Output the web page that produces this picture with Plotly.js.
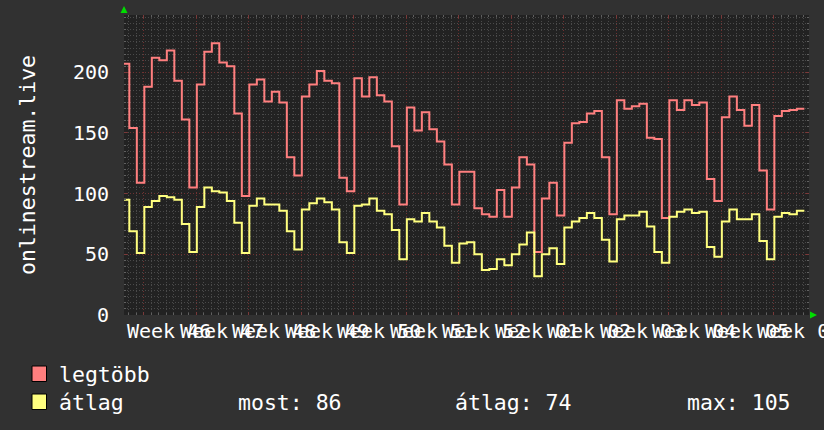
<!DOCTYPE html>
<html>
<head>
<meta charset="utf-8">
<script src="https://cdn.plot.ly/plotly-3.0.1.min.js"></script>
<style>
  html, body { margin: 0; padding: 0; background: #313131; }
  #chart { width: 824px; height: 430px; }
</style>
</head>
<body>
<div id="chart"></div>
<script>
// ---- data (daily values) ----
const firstDay = -0.29;          // start of first daily step, in days from the left edge
const legtobb = [207,154,109,188,212,210,218,193,161,105,190,217,224,208,205,166,98,190,194,176,184,175,130,115,
  180,190,201,193,191,113,102,195,180,196,181,176,139,91,171,152,167,153,143,124,91,118,118,
  88,83,81,103,81,105,130,124,52,96,109,82,142,158,159,166,168,130,83,177,170,172,174,
  146,145,80,177,169,177,173,175,112,94,163,180,169,156,173,119,87,164,168,169,170];
const atlag = [95,69,51,89,94,98,97,95,75,52,89,105,102,101,94,76,51,90,96,91,91,86,69,54,
  87,92,96,93,87,60,51,90,91,96,86,83,70,46,79,77,84,77,72,57,43,59,60,
  50,37,38,46,41,50,58,68,32,50,55,42,72,77,80,84,80,62,44,79,82,82,85,
  73,52,43,81,85,87,84,85,56,48,77,87,79,79,83,61,46,81,84,83,86];
const weekLabels = ["Week 46","Week 47","Week 48","Week 49","Week 50","Week 51","Week 52",
  "Week 01","Week 02","Week 03","Week 04","Week 05","Week 06"];
const seriesNames = ["legtöbb","átlag"];
const seriesColors = ["#ff7f7f","#ffff7f"];
const statLabels = ["most: 86","átlag: 74","max: 105"];
const yTitle = "onlinestream.live";

// ---- geometry ----
const xMax = 91.33, yMax = 247.2;
const weekStart = 2.6;    // first Monday grid line (days)
const labelStart = 6.05;  // label centres, mid-week

function stepX(vals){ const x = vals.map((_, i) => firstDay + i); x.push(firstDay + vals.length); return x; }
function stepY(vals){ return vals.concat([vals[vals.length-1]]); }

const traces = [legtobb, atlag].map((vals, i) => ({
  x: stepX(vals), y: stepY(vals), type: 'scatter', mode: 'lines',
  line: {shape: 'hv', color: seriesColors[i], width: 2}, name: seriesNames[i],
  hoverinfo: 'skip', showlegend: false
}));

const mono = 'DejaVu Sans Mono, monospace';
const W = 685, H = 300, L = 124, T = 15;
const px2x = p => (p - L) / W;
const py2y = p => (T + H - p) / H;

const annotations = [];
weekLabels.forEach((t, k) => annotations.push({
  x: labelStart + 7*k, xref: 'x', y: py2y(331), yref: 'paper', text: t, showarrow: false,
  xanchor: 'center', yanchor: 'middle', font: {family: mono, size: 20, color: '#ffffff'}
}));
annotations.push({x: px2x(27), xref: 'paper', y: py2y(165), yref: 'paper', text: yTitle, textangle: -90,
  showarrow: false, xanchor: 'center', yanchor: 'middle', font: {family: mono, size: 21.5, color: '#ffffff'}});
const rowY = [374, 402];
seriesNames.forEach((n, i) => annotations.push({
  x: px2x(57), xref: 'paper', y: py2y(rowY[i]), yref: 'paper', text: n, showarrow: false,
  xanchor: 'left', yanchor: 'middle', font: {family: mono, size: 21.5, color: '#ffffff'}
}));
const statX = [236, 453, 685];
statLabels.forEach((s, i) => annotations.push({
  x: px2x(statX[i]), xref: 'paper', y: py2y(rowY[1]), yref: 'paper', text: s, showarrow: false,
  xanchor: 'left', yanchor: 'middle', font: {family: mono, size: 21.5, color: '#ffffff'}
}));

const shapes = [];
seriesColors.forEach((c, i) => shapes.push({
  type: 'rect', xref: 'paper', yref: 'paper',
  x0: px2x(32), x1: px2x(46.5), y0: py2y(rowY[i] - 8), y1: py2y(rowY[i] + 7.5),
  fillcolor: c, line: {color: '#000000', width: 1}
}));
// green arrow heads on the axes
shapes.push({type: 'path', xref: 'paper', yref: 'paper', fillcolor: '#00dd00', line: {width: 0},
  path: `M ${px2x(120.5)} ${py2y(13)} L ${px2x(127.5)} ${py2y(13)} L ${px2x(124)} ${py2y(6)} Z`});
shapes.push({type: 'path', xref: 'paper', yref: 'paper', fillcolor: '#00dd00', line: {width: 0},
  path: `M ${px2x(810)} ${py2y(311.5)} L ${px2x(810)} ${py2y(318.5)} L ${px2x(817)} ${py2y(315)} Z`});

const layout = {
  width: 824, height: 430,
  margin: {l: L, r: 824 - L - W, t: T, b: 430 - T - H},
  paper_bgcolor: '#313131', plot_bgcolor: '#222222',
  showlegend: false,
  xaxis: {
    range: [0, xMax], tick0: weekStart, dtick: 7, showticklabels: false,
    showgrid: true, gridcolor: '#6e3232', griddash: '1px,2px', gridwidth: 1,
    zeroline: false, showline: false,
    ticks: 'inside', ticklen: 3, tickcolor: '#7a3a3a', mirror: 'ticks',
    minor: {tick0: weekStart, dtick: 1, showgrid: true, gridcolor: '#4a4a4a', griddash: '1px,2px',
            ticks: 'inside', ticklen: 2, tickcolor: '#606060'}
  },
  yaxis: {
    range: [0, yMax], tick0: 0, dtick: 50,
    showgrid: true, gridcolor: '#6e3232', griddash: '1px,2px', gridwidth: 1,
    zeroline: false, showline: false,
    ticks: 'inside', ticklen: 3, tickcolor: '#7a3a3a', mirror: 'ticks',
    tickfont: {family: mono, size: 20, color: '#ffffff'}, ticklabelstandoff: 14,
    minor: {dtick: 5, showgrid: true, gridcolor: '#4a4a4a', griddash: '1px,2px',
            ticks: 'inside', ticklen: 2, tickcolor: '#606060'}
  },
  annotations: annotations,
  shapes: shapes
};

Plotly.newPlot('chart', traces, layout, {staticPlot: true, displayModeBar: false});
</script>
</body>
</html>
